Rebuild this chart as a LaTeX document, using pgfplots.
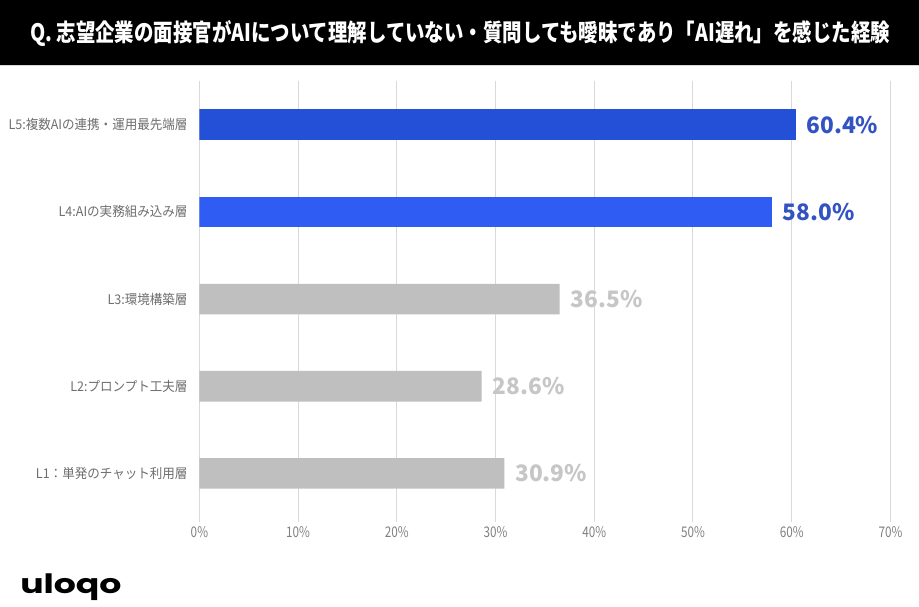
\documentclass[border=0pt]{standalone}
\usepackage{fontspec}
\usepackage{pgfplots}
\pgfplotsset{compat=1.18}
\setmainfont{Noto Sans CJK JP}
\newfontfamily\titlefont[FakeStretch=0.81]{Noto Sans CJK JP}
\newfontfamily\labelfont[FakeStretch=0.94]{Noto Sans CJK JP}
\newfontfamily\tickfont[FakeStretch=0.8]{Noto Sans CJK JP}
\newfontfamily\logofont[FakeStretch=1.3]{Poppins}
\definecolor{blueA}{HTML}{2450D8}
\definecolor{blueB}{HTML}{2F5CF2}
\definecolor{blueText}{HTML}{3353C2}
\definecolor{barGray}{HTML}{BFBFBF}
\definecolor{grayText}{HTML}{C6C6C6}
\definecolor{gridGray}{HTML}{D9D9D9}
\definecolor{labelGray}{HTML}{6E6E6E}
\definecolor{tickGray}{HTML}{808080}
\begin{document}
\begin{tikzpicture}[x=0.75pt,y=0.75pt]
\useasboundingbox (0,0) rectangle (919,606);
\fill[white] (0,0) rectangle (919,606);
\fill[black] (0,541) rectangle (919,606);
\draw[gridGray, line width=0.75pt] (0,540.5) -- (919,540.5);
\node[text=white, font=\titlefont\bfseries\fontsize{18}{20}\selectfont] at (460,572) {Q. 志望企業の面接官がAIについて理解していない・質問しても曖昧であり「AI遅れ」を感じた経験};
\node[anchor=base west, inner sep=0pt, font=\logofont\bfseries\fontsize{20}{22}\selectfont] at (20,13) {uloqo};
\begin{axis}[
  at={(202,102)}, anchor=south west,
  scale only axis, width=518.25pt, height=327pt,
  xbar, bar width=0.35, bar shift=0pt,
  xmin=0, xmax=70, ymin=0.5, ymax=5.5,
  xtick={0,10,...,70},
  xticklabel={\pgfmathprintnumber{\tick}\%},
  ytick={1,2,3,4,5},
  yticklabels={L1：単発のチャット利用層, L2:プロンプト工夫層, L3:環境構築層, L4:AIの実務組み込み層, L5:複数AIの連携・運用最先端層},
  axis line style={draw=none},
  xmajorgrids, grid style={color=gridGray, line width=0.75pt},
  tick align=outside, xtick pos=bottom, major tick length=3.75pt,
  xtick style={color=gridGray, line width=0.75pt},
  ytick style={draw=none},
  /pgf/number format/assume math mode=true,
  xticklabel style={font=\tickfont\fontsize{11}{12}\selectfont, text=tickGray},
  yticklabel style={font=\labelfont\fontsize{10}{12}\selectfont, text=labelGray, inner sep=0pt, xshift=-5pt},
  nodes near coords={\pgfmathprintnumber[fixed,fixed zerofill,precision=1]{\pgfplotspointmeta}\%},
  every node near coord/.append style={font=\bfseries\fontsize{17}{20}\selectfont, inner sep=0pt, xshift=8pt, anchor=west},
]
\addplot[fill=barGray, draw=none, every node near coord/.append style={text=grayText}] coordinates {(30.9,1) (28.6,2) (36.5,3)};
\addplot[fill=blueB, draw=none, every node near coord/.append style={text=blueText}] coordinates {(58.0,4)};
\addplot[fill=blueA, draw=none, every node near coord/.append style={text=blueText}] coordinates {(60.4,5)};
\end{axis}
\end{tikzpicture}
\end{document}
